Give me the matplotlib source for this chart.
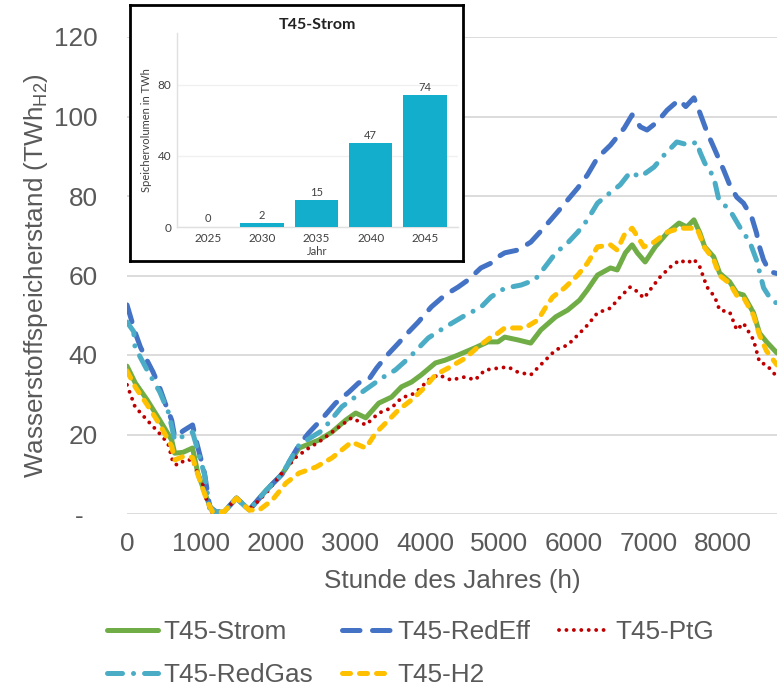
import matplotlib
matplotlib.use("Agg")
import matplotlib.pyplot as plt
from matplotlib.ticker import FuncFormatter

plt.rcParams['font.family'] = ['Liberation Sans', 'DejaVu Sans']
plt.rcParams['mathtext.fontset'] = 'custom'
plt.rcParams['mathtext.rm'] = 'Liberation Sans'
plt.rcParams['mathtext.it'] = 'Liberation Sans'

GREY = '#595959'
FS = 18.8

# --- storage level per hour ---
strom_h = [0, 110, 270, 440, 600, 640, 750, 880, 950, 1080, 1150, 1300, 1470, 1640, 1870, 2080,
           2310, 2575, 2750, 2935, 3070, 3205, 3380, 3550, 3685, 3820, 3950, 4140, 4270, 4445,
           4670, 4845, 4980, 5070, 5245, 5420, 5555, 5755, 5915, 6075, 6180, 6315, 6490, 6580,
           6690, 6780, 6850, 6955, 7090, 7250, 7410, 7515, 7610, 7690, 7755, 7875, 7955, 8090,
           8185, 8275, 8410, 8490, 8585, 8725]
strom_v = [37.2, 33, 28.7, 23.6, 18.6, 15.3, 15.5, 16.6, 10.3, 3.5, 0.5, 0.5, 4, 1, 6, 10,
           16.6, 18.6, 20.6, 23.6, 25.4, 24.2, 27.9, 29.4, 32, 33.2, 35, 38, 38.7, 40,
           41.8, 43.3, 43.3, 44.5, 43.8, 43, 46.3, 49.6, 51.3, 53.8, 56.4, 60.1, 61.9, 61.4,
           65.7, 67.7, 65.7, 63.4, 67.2, 70.7, 73.2, 72.2, 74, 70.7, 67.2, 64.7, 60.6, 58.4,
           55.6, 55.1, 50.6, 45.5, 43.3, 40.5]

redeff_h = [0, 107, 180, 267, 350, 440, 510, 600, 640, 760, 880, 935, 1040, 1110, 1200, 1300,
            1470, 1640, 1870, 2080, 2310, 2440, 2620, 2800, 2980, 3110, 3240, 3350, 3470, 3645,
            3740, 3910, 4085, 4270, 4445, 4580, 4750, 4885, 4980, 5070, 5245, 5420, 5605, 5780,
            5915, 6050, 6180, 6315, 6490, 6675, 6780, 6890, 6980, 7115, 7250, 7410, 7500, 7610,
            7690, 7785, 7875, 8010, 8090, 8185, 8275, 8385, 8450, 8490, 8545, 8625, 8725]
redeff_v = [52.6, 45.8, 42, 38.7, 35.7, 31.7, 28, 23.6, 19.4, 21, 22.4, 18, 10.3, 1.8, 0.5, 0.5,
            4, 1, 6, 10, 17.4, 20.4, 24, 27.9, 30.7, 33, 33.7, 36.7, 39.5, 43,
            45, 48.3, 52.1, 55.1, 57.1, 58.9, 61.9, 63.1, 64.7, 65.7, 66.4, 68.4, 72.2, 76,
            79, 82, 85.3, 89.6, 92.8, 97.1, 100.4, 97.4, 96.6, 98.6, 101.6, 104.2, 102.5, 104.7,
            100.9, 96.1, 92.3, 86.5, 82.8, 79.7, 78.2, 74.7, 70.7, 67.2, 63.9, 61, 60.5]

ptg_h = [0, 107, 270, 420, 550, 620, 680, 780, 880, 950, 1030, 1060, 1130, 1300, 1470, 1640,
         1870, 2080, 2270, 2440, 2575, 2845, 3015, 3205, 3380, 3550, 3685, 3870, 4045, 4180,
         4350, 4540, 4670, 4805, 4980, 5115, 5245, 5420, 5605, 5755, 5915, 6050, 6180, 6315,
         6490, 6620, 6755, 6820, 6940, 7050, 7155, 7290, 7420, 7515, 7610, 7690, 7785, 7890,
         7955, 8090, 8185, 8275, 8410, 8490, 8585, 8725]
ptg_v = [32.5, 27, 23.6, 20.6, 17.8, 12.8, 12.3, 13.6, 13.6, 10, 7, 4, 0.5, 0.5, 4, 1,
         5.3, 10.3, 14.3, 16.6, 18.1, 21.9, 24.2, 22.4, 25.4, 26.7, 29.2, 30.4, 33.7, 35,
         33.7, 34.5, 33.7, 36.2, 36.7, 37, 35.7, 35, 38.5, 41.3, 42.5, 45, 47.5, 50.6,
         51.8, 54.6, 57.1, 56.4, 54.3, 57.1, 59.6, 62.1, 63.9, 63.1, 64.1, 62.1, 57.1, 54.6,
         51.3, 50.8, 46.3, 48, 43.8, 38.2, 37.5, 34.5]

redgas_h = [0, 90, 107, 270, 440, 560, 640, 880, 935, 1040, 1110, 1200, 1300, 1470, 1640, 1870,
            2080, 2310, 2620, 2885, 3135, 3420, 3600, 3780, 4045, 4270, 4540, 4750, 4885, 5070,
            5290, 5475, 5605, 5755, 5915, 6050, 6180, 6315, 6450, 6620, 6755, 6890, 7075, 7210,
            7380, 7545, 7650, 7690, 7755, 7875, 7945, 8090, 8225, 8360, 8450, 8545, 8650, 8725]
redgas_v = [48.3, 45.9, 42, 36.2, 30.7, 25.4, 18.6, 20.6, 17, 10, 1.5, 0.5, 0.5, 4, 1, 6,
            10, 17.4, 21, 27, 30.4, 34.2, 36.2, 39.2, 44.3, 47, 50, 52, 54.6, 56.8,
            57.6, 58.9, 62, 65.7, 68.2, 70.9, 74, 78.2, 80.3, 82.8, 86, 84.8, 87.3, 90.3,
            93.6, 92.8, 93.6, 91.1, 88.3, 84.8, 79, 76.5, 72.2, 68.4, 63.9, 56.9, 53.8, 53]

h2_h = [0, 110, 270, 440, 600, 640, 760, 880, 950, 1080, 1150, 1300, 1470, 1640, 1775, 1950,
        2135, 2310, 2535, 2750, 3015, 3205, 3340, 3510, 3645, 3820, 4005, 4140, 4310, 4540,
        4710, 4885, 4980, 5070, 5340, 5515, 5620, 5715, 5875, 6050, 6180, 6315, 6490, 6580,
        6675, 6780, 6940, 7075, 7250, 7420, 7555, 7650, 7755, 7875, 7955, 8090, 8185, 8275,
        8410, 8490, 8585, 8725]
h2_v = [36, 32, 27.5, 22.5, 17, 13.6, 14.5, 14.2, 10, 3, 0.5, 0.5, 4, 1, 1, 3.5,
        7.8, 10.3, 11.8, 14.1, 18.1, 16.6, 20.4, 23.6, 26.2, 28.7, 32, 35, 36.7, 39.2,
        42, 44.5, 45.5, 46.8, 46.8, 48.8, 52, 54.6, 56.9, 60.1, 63.1, 67.2, 67.7, 66.4,
        70.2, 71.9, 67.2, 68.4, 70.9, 71.9, 71.9, 71.9, 67, 64, 60, 58, 55, 54.5,
        50, 45, 41, 37.5]

# --- inset: storage volume per year ---
years = ['2025', '2030', '2035', '2040', '2045']
volume = [0, 2, 15, 47, 74]

fig = plt.figure(figsize=(7.77, 6.88), dpi=100)
ax = fig.add_axes([127/777, 1-514/688, 650/777, 477/688])

styles = [
    ('T45-Strom', strom_h, strom_v, dict(color='#70AD47', lw=3.6, ls='-', solid_capstyle='round')),
    ('T45-RedEff', redeff_h, redeff_v, dict(color='#4472C4', lw=3.6, ls=(0, (3.5, 2.5)), dash_capstyle='round')),
    ('T45-PtG', ptg_h, ptg_v, dict(color='#C00000', lw=2.8, ls=(0, (0.01, 1.9)), dash_capstyle='round')),
    ('T45-RedGas', redgas_h, redgas_v, dict(color='#4BACC6', lw=3.6, ls=(0, (3, 2.2, 0.01, 2.2)), dash_capstyle='round')),
    ('T45-H2', h2_h, h2_v, dict(color='#FFC000', lw=3.6, ls=(0, (1.6, 1.8)), dash_capstyle='round')),
]
handles = {}
for name, xs, ys, kw in styles:
    ln, = ax.plot(xs, ys, label=name, **kw)
    handles[name] = ln

ax.set_xlim(0, 8725)
ax.set_ylim(0, 120)
ax.set_xticks(range(0, 9000, 1000))
ax.set_yticks(range(0, 140, 20))
ax.yaxis.set_major_formatter(FuncFormatter(lambda v, p: '-  ' if v == 0 else f'{v:.0f}'))
for s in ax.spines.values():
    s.set_visible(False)
ax.grid(axis='y', color='#D9D9D9', lw=1.3)
ax.set_axisbelow(True)
ax.tick_params(axis='both', length=0, labelsize=FS, labelcolor=GREY)
ax.tick_params(axis='y', pad=21)
ax.tick_params(axis='x', pad=13)
ax.set_xlabel('Stunde des Jahres (h)', fontsize=FS, color=GREY, labelpad=9)
ax.set_ylabel('Wasserstoffspeicherstand (TWh$_{\\mathrm{H2}}$)', fontsize=FS, color=GREY, labelpad=3)

order = ['T45-Strom', 'T45-RedGas', 'T45-RedEff', 'T45-H2', 'T45-PtG']
leg = fig.legend([handles[n] for n in order], order, ncol=3, loc='upper left',
                 bbox_to_anchor=(107/777, 1-620/688), frameon=False, fontsize=FS,
                 handlelength=1.95, handletextpad=0.2, columnspacing=1.1, labelspacing=0.72,
                 borderaxespad=0, borderpad=0)
for t in leg.get_texts():
    t.set_color(GREY)

# inset frame
frame = fig.add_axes([130/777, 1-261/688, 333/777, 256/688], zorder=5)
frame.set_xticks([])
frame.set_yticks([])
frame.set_facecolor('white')
for s in frame.spines.values():
    s.set_linewidth(2)
    s.set_color('black')

INK = '#404040'
bax = fig.add_axes([177/777, 1-227/688, 281/777, 194/688], zorder=6)
bax.set_facecolor('none')
bax.bar(range(len(years)), volume, width=0.8, color='#12AECB', zorder=3)
for i, v in enumerate(volume):
    bax.text(i, v + 1.5, str(v), ha='center', va='bottom', fontsize=8, color=INK, family='Lato')
bax.set_xlim(-0.57, 4.61)
bax.set_ylim(0, 109)
bax.set_xticks(range(len(years)))
bax.set_xticklabels(years)
bax.set_yticks([0, 40, 80])
bax.grid(axis='y', color='#F0F0F0', lw=1)
bax.set_axisbelow(True)
for k in ['top', 'right']:
    bax.spines[k].set_visible(False)
for k in ['left', 'bottom']:
    bax.spines[k].set_color('#E0E0E0')
    bax.spines[k].set_linewidth(1)
bax.tick_params(axis='both', length=0, labelsize=8.5, labelcolor=INK, pad=4)
for lab in bax.get_xticklabels() + bax.get_yticklabels():
    lab.set_family('Lato')
bax.set_title('T45-Strom', fontsize=11.5, fontweight='bold', color='#222222', pad=3, family='Lato')
bax.set_xlabel('Jahr', fontsize=8, color=INK, labelpad=2, family='Lato')
bax.set_ylabel('Speichervolumen in TWh', fontsize=8, color=INK, labelpad=4, family='Lato')

fig.savefig('out.png', dpi=100)
